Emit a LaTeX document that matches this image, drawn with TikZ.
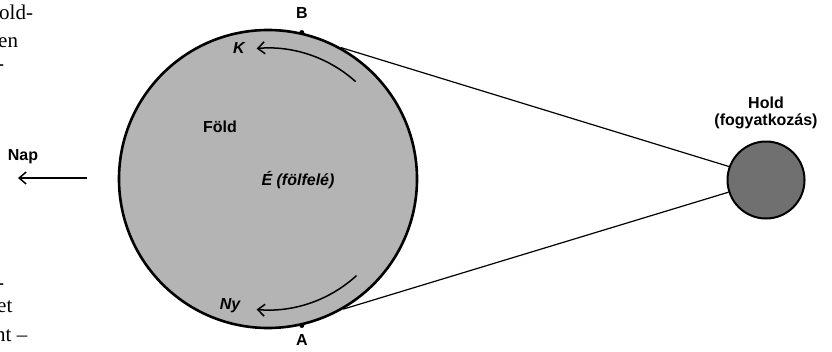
\documentclass[tikz,border=0pt]{standalone}
\usepackage{fontspec}
\setmainfont{Liberation Sans}
\newfontfamily\pageserif{Liberation Serif}
\usetikzlibrary{arrows.meta}
\definecolor{earthgray}{RGB}{180,180,180}
\definecolor{moongray}{RGB}{112,112,112}
\tikzset{
  lbl/.style={font=\fontsize{16}{18}\selectfont\bfseries, inner sep=0pt},
  ilbl/.style={font=\fontsize{16}{18}\selectfont\bfseries\itshape, inner sep=0pt},
  frag/.style={font=\fontsize{21}{24}\selectfont\pageserif, inner sep=0pt, anchor=base west},
  ray/.style={line width=1.2pt},
  motion/.style={line width=1.5pt, -{Straight Barb[length=7pt,width=12pt,line width=1.5pt]}},
  pt/.style={circle, fill=black, inner sep=0pt, minimum size=5pt}
}
\begin{document}
\begin{tikzpicture}[x=1pt,y=-1pt]
\useasboundingbox (0,0) rectangle (832,351);
% cropped page text fragments
\node[frag] (f1) at (-1,19) {old-};
\node[frag] (f2) at (-2,47) {en};
\node[frag] (f3) at (-3,70) {-};
\node[frag] (f4) at (-3,289) {-};
\node[frag] (f5) at (-3,312) {et};
\node[frag] (f6) at (-5,341) {nt –};
% Earth and Moon
\node[circle, draw=black, line width=2.6pt, fill=earthgray, minimum size=298pt, inner sep=0pt] (earth) at (268,179) {};
\node[circle, draw=black, line width=2pt, fill=moongray, minimum size=77pt, inner sep=0pt] (moon) at (766,180) {};
% rays
\draw[ray] (earth.61.6) -- (moon.160.6);
\draw[ray] (earth.-60.6) -- (moon.198.9);
% points
\node[pt] (B) at (earth.77) {};
\node[pt] (A) at (earth.-77) {};
\node[lbl] (Bl) at (302,13) {B};
\node[lbl] (Al) at (302,340) {A};
% rotation arrows
\coordinate (c) at (268,179);
\draw[motion] ([shift={(-48:131)}]c) arc[start angle=-48, end angle=-95, radius=131];
\draw[motion] ([shift={(47.5:131)}]c) arc[start angle=47.5, end angle=95, radius=131];
\node[ilbl] (K) at (239,48) {K};
\node[ilbl] (Ny) at (230,306) {Ny};
% labels
\node[lbl] (fold) at (220,127) {Föld};
\node[ilbl] (E) at (298,180) {É (fölfelé)};
\node[lbl] (hold) at (766,103) {Hold};
\node[lbl] (fogy) at (766,121) {(fogyatkozás)};
\node[lbl] (nap) at (23,157) {Nap};
\coordinate (napS) at (87,178);
\coordinate (napE) at (18,178);
\draw[motion] (napS) -- (napE);
\end{tikzpicture}
\end{document}
